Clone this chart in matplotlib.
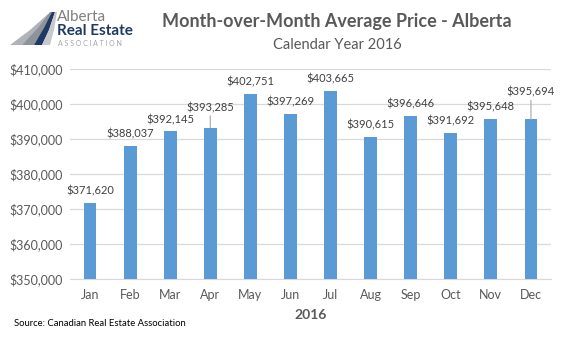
import matplotlib
matplotlib.use("Agg")
import matplotlib.pyplot as plt
from matplotlib.patches import Polygon

months = ["Jan", "Feb", "Mar", "Apr", "May", "Jun", "Jul", "Aug", "Sep", "Oct", "Nov", "Dec"]
prices = [371620, 388037, 392145, 393285, 402751, 397269, 403665, 390615, 396646, 391692, 395648, 395694]
yticks = [350000, 360000, 370000, 380000, 390000, 400000, 410000]
title = "Month-over-Month Average Price - Alberta"
subtitle = "Calendar Year 2016"
xlabel = "2016"
source = "Source: Canadian Real Estate Association"

W, H = 566, 339
plt.rcParams['font.family'] = ['Lato', 'DejaVu Sans']
fig = plt.figure(figsize=(W / 100, H / 100), dpi=100)
fig.patch.set_facecolor('white')

ax = fig.add_axes([70 / W, 1 - 279 / H, (551 - 70) / W, (279 - 69) / H])
x = list(range(len(months)))
ax.bar(x, prices, width=0.32, color='#5B9BD5', zorder=3)
ax.set_ylim(350000, 410000)
ax.set_xlim(-0.5, len(months) - 0.5)
ax.set_yticks(yticks)
ax.set_yticklabels([f"${v:,.0f}" for v in yticks], fontsize=9, color='#595959')
ax.set_xticks(x)
ax.set_xticklabels(months, fontsize=9, color='#595959')
ax.tick_params(axis='y', length=0, pad=5)
ax.tick_params(axis='x', length=0, pad=7)
ax.grid(axis='y', color='#D9D9D9', linewidth=0.9, zorder=0)
for s in ['top', 'right', 'left']:
    ax.spines[s].set_visible(False)
ax.spines['bottom'].set_color('#D9D9D9')
ax.set_xlabel(xlabel, fontsize=10, fontweight='bold', color='#595959', labelpad=6)

# data labels
offsets = {3: 20, 11: 27}
for i, v in enumerate(prices):
    dy = offsets.get(i, 12)
    kw = {}
    if i in offsets:
        kw['arrowprops'] = dict(arrowstyle='-', color='#A6A6A6', lw=0.8, shrinkA=0, shrinkB=0)
    ax.annotate(f"${v:,.0f}", xy=(i, v), xytext=(0, dy), textcoords='offset pixels',
                ha='center', va='center', fontsize=8, color='#404040', **kw)

fig.text(337 / W, 1 - 22 / H, title, ha='center', va='center', fontsize=13,
         fontweight='bold', color='#595959')
fig.text(337 / W, 1 - 45 / H, subtitle, ha='center', va='center', fontsize=10.5, color='#595959')
fig.text(14 / W, 1 - 323 / H, source, ha='left', va='center', fontsize=6.8, color='#000000')

# logo
def P(pts, color):
    fig.patches.append(Polygon([(a / W, 1 - b / H) for a, b in pts], closed=True,
                               transform=fig.transFigure, facecolor=color, edgecolor='none'))
P([(10, 45), (30, 30), (48, 14), (50, 14), (36, 32), (22, 45)], '#B0B4BA')
P([(22, 45), (38, 28), (50, 12), (53, 12), (44, 30), (34, 45)], '#8E9399')
P([(34, 45), (44, 28), (52, 12), (55, 12), (49, 30), (42, 45)], '#1F3864')
P([(42, 45), (49, 30), (55, 12), (57, 12), (54, 30), (50, 45)], '#C5C8CC')
fig.text(57 / W, 1 - 17 / H, "Alberta", ha='left', va='center', fontsize=11, color='#7F7F7F')
fig.text(57 / W, 1 - 31 / H, "Real Estate", ha='left', va='center', fontsize=11,
         fontweight='bold', color='#1F3864')
fig.text(58 / W, 1 - 43 / H, "A S S O C I A T I O N", ha='left', va='center', fontsize=5,
         color='#A6A6A6')

fig.savefig("out.png", dpi=100, facecolor='white')
